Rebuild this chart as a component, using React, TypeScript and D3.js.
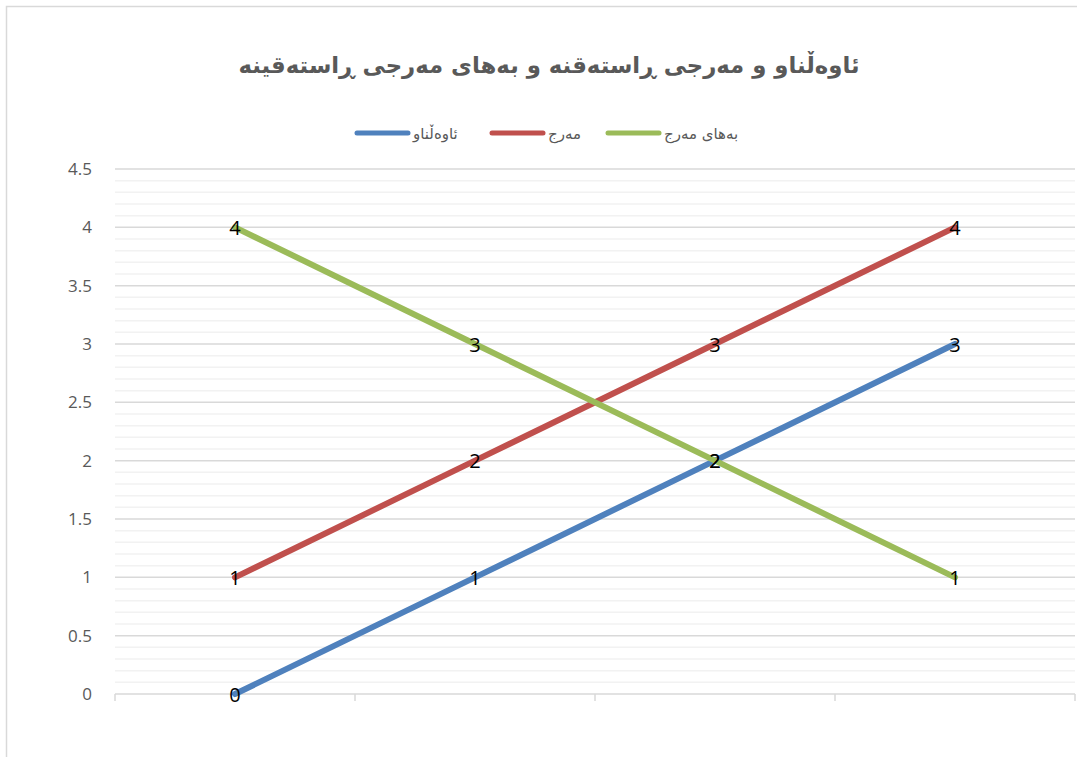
import React from "react";
import * as d3 from "d3";

const categories = ["c1", "c2", "c3", "c4"];
const seriesNames = ["ئاوەڵناو", "مەرج", "بەهای مەرج"];
const adjValues = [0, 1, 2, 3];
const condValues = [1, 2, 3, 4];
const condValueValues = [4, 3, 2, 1];
const seriesColors = ["#4f81bd", "#c0504d", "#9bbb59"];
const yTicks = [0, 0.5, 1, 1.5, 2, 2.5, 3, 3.5, 4, 4.5];
const title = "ئاوەڵناو و مەرجی ڕاستەقنە و بەهای مەرجی ڕاستەقینە";

export default function App() {
  const W = 1077, H = 757;
  const left = 115, right = 1075, top = 169, bottom = 694;
  const x = d3.scaleBand().domain(categories).range([left, right]);
  const y = d3.scaleLinear().domain([0, 4.5]).range([bottom, top]);
  const minor = d3.range(0, 46).map((i) => i / 10).filter((v) => Math.round(v * 10) % 5 !== 0);
  const series = [adjValues, condValues, condValueValues];
  const line = d3.line<number>().x((_, i) => x(categories[i])! + x.bandwidth() / 2).y((d) => y(d));
  const legendX = [357, 492, 608];
  const arFont = "'DejaVu Sans', sans-serif";
  const numFont = "'Open Sans', sans-serif";
  return (
    <svg width={W} height={H} style={{ position: "absolute", left: 0, top: 0 }}>
      <rect x={0} y={0} width={W} height={H} fill="#fff" />
      <rect x={6.5} y={6.5} width={W + 20} height={H + 20} fill="#fff" stroke="#d9d9d9" strokeWidth={1.5} />
      <text x={549} y={73} textAnchor="middle" fontFamily={arFont} fontWeight="bold" fontSize={22.8} fill="#595959">{title}</text>
      {seriesNames.map((n, i) => (
        <g key={n}>
          <line x1={legendX[i]} x2={legendX[i] + 51} y1={133} y2={133} stroke={seriesColors[i]} strokeWidth={5} strokeLinecap="round" />
          <text x={legendX[i] + 56} y={139} fontFamily={arFont} fontSize={15} fill="#595959" textAnchor="start" direction="ltr">{n}</text>
        </g>
      ))}
      {minor.map((v) => (
        <line key={"m" + v} x1={left} x2={right} y1={y(v)} y2={y(v)} stroke="#f2f2f2" strokeWidth={1.5} />
      ))}
      {yTicks.map((v) => (
        <g key={"t" + v}>
          <line x1={left} x2={right} y1={y(v)} y2={y(v)} stroke="#d9d9d9" strokeWidth={1.5} />
          <text x={92} y={y(v) + 6} textAnchor="end" fontFamily={numFont} fontSize={17} fill="#595959">{v}</text>
        </g>
      ))}
      {[...categories.map((c) => x(c)!), right].map((px, i) => (
        <line key={"xt" + i} x1={px} x2={px} y1={bottom} y2={bottom + 7} stroke="#d9d9d9" strokeWidth={1.5} />
      ))}
      {series.map((s, i) => (
        <path key={"s" + i} d={line(s)!} fill="none" stroke={seriesColors[i]} strokeWidth={6} strokeLinecap="round" />
      ))}
      {series.map((s, i) =>
        s.map((v, j) => (
          <text key={"l" + i + j} x={x(categories[j])! + x.bandwidth() / 2} y={y(v) + 7.5} textAnchor="middle" fontFamily={numFont} fontSize={20} fill="#000">{v}</text>
        ))
      )}
    </svg>
  );
}
